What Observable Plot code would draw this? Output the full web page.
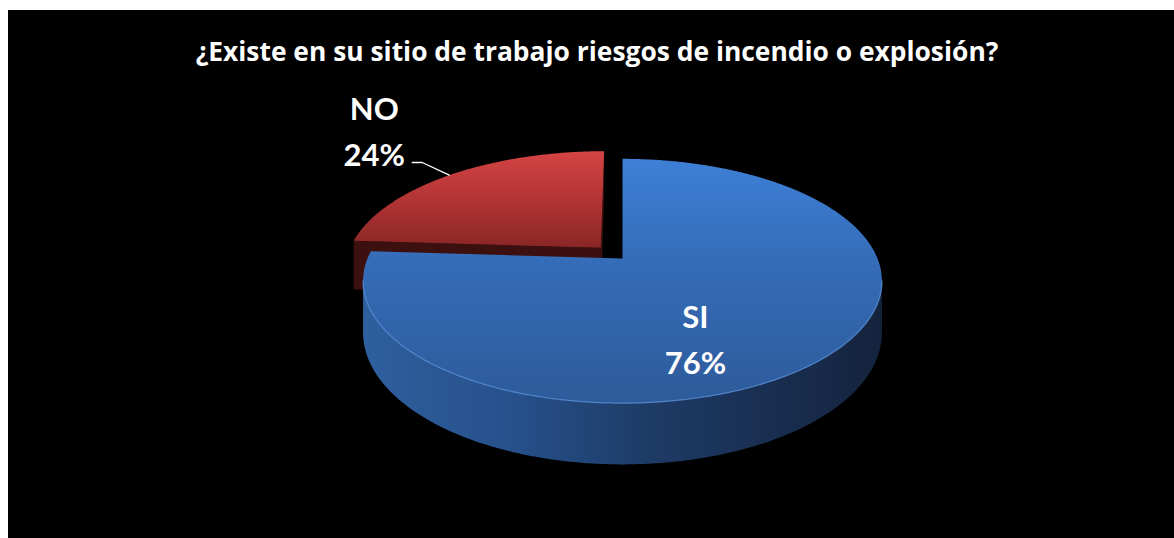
<!DOCTYPE html>
<html>
<head>
<meta charset="utf-8">
<script src="https://cdn.jsdelivr.net/npm/d3@7"></script>
<script src="https://cdn.jsdelivr.net/npm/@observablehq/plot@0.6"></script>
<style>
  html, body { margin: 0; padding: 0; background: #ffffff; }
  #frame { position: absolute; left: 8px; top: 10px; width: 1166px; height: 528px; background: #000; overflow: hidden; }
  #title { height: 70px; box-sizing: border-box; padding-top: 26px; padding-left: 12px; text-align: center;
           color: #fff; font: bold 26.4px "Open Sans", sans-serif; line-height: 30px; white-space: nowrap; }
  #chart svg { display: block; }
</style>
</head>
<body>
<div id="frame"><div id="title"></div><div id="chart"></div></div>
<script>
// ---- data ----
const chartTitle = "¿Existe en su sitio de trabajo riesgos de incendio o explosión?";
const categories = ["SI", "NO"];
const values = [76, 24];
const percentLabels = ["76%", "24%"];
const explodeAmount = [0, 0.126];

// ---- layout (3D perspective pie) ----
const C = {x: 622, y: 258};   // projected pie center (page px)
const A = 255, B = 118, K = -0.184, T = 50;
const deg = Math.PI / 180;
function proj(X, Z, h = 0) {
  const w = 1 + K * Z;
  return {x: C.x + A * X / w, y: C.y + (B * Z + h) / w};
}
const arcs = d3.pie().sort(null).value(d => d)(values);
const frontL = 100.6 * deg, frontR = 259.4 * deg;

function rim(a0, a1, off, h) {
  const n = Math.max(2, Math.ceil(Math.abs(a1 - a0) / (0.5 * deg)));
  const pts = [];
  for (let i = 0; i <= n; i++) {
    const a = a0 + (a1 - a0) * i / n;
    pts.push(proj(off.X + Math.sin(a), off.Z - Math.cos(a), h));
  }
  return pts;
}
function area2(p) {
  let s = 0;
  for (let i = 0; i < p.length; i++) { const q = p[(i + 1) % p.length]; s += p[i].x * q.y - q.x * p[i].y; }
  return s;
}

const fills = {
  SI: {top: "url(#siTop)", side: "url(#siSide)", cut: "#1c355c", hi: "#5d95de"},
  NO: {top: "url(#noTop)", side: "url(#noSide)", cut: "#3d1010", hi: "#d85555"}
};

const marks = [];
const order = [1, 0]; // back slice (NO) first
for (const i of order) {
  const a = arcs[i], cat = categories[i], f = fills[cat];
  const mid = (a.startAngle + a.endAngle) / 2;
  const off = {X: explodeAmount[i] * Math.sin(mid), Z: -explodeAmount[i] * Math.cos(mid)};
  // outer side (front visible part)
  const s0 = Math.max(a.startAngle, frontL), s1 = Math.min(a.endAngle, frontR);
  let hiArc = null;
  if (s1 > s0) {
    const topArc = rim(s0, s1, off, 0), botArc = rim(s0, s1, off, T).reverse();
    marks.push(Plot.line(topArc.concat(botArc), {x: "x", y: "y", fill: f.side, stroke: "none"}));
    hiArc = topArc;
  }
  // radial cut faces
  const apexT = proj(off.X, off.Z, 0), apexB = proj(off.X, off.Z, T);
  for (const [ang, sign] of [[a.startAngle, -1], [a.endAngle, 1]]) {
    const rT = proj(off.X + Math.sin(ang), off.Z - Math.cos(ang), 0);
    const rB = proj(off.X + Math.sin(ang), off.Z - Math.cos(ang), T);
    const quad = [apexT, rT, rB, apexB];
    if (Math.sign(area2(quad)) === sign) {
      marks.push(Plot.line(quad, {x: "x", y: "y", fill: f.cut, stroke: "none"}));
    }
  }
  // top face
  const topPoly = [apexT].concat(rim(a.startAngle, a.endAngle, off, 0));
  marks.push(Plot.line(topPoly, {x: "x", y: "y", fill: f.top, stroke: "none"}));
  if (hiArc) marks.push(Plot.line(hiArc, {x: "x", y: "y", stroke: f.hi, strokeWidth: 1.2, strokeOpacity: 0.8}));
}

// labels
const siDisc = {X: 0.255, Z: 0.586};
const siPos = proj(siDisc.X, siDisc.Z);
const noArc = arcs[1];
const noMid = (noArc.startAngle + noArc.endAngle) / 2;
const noOff = {X: explodeAmount[1] * Math.sin(noMid), Z: -explodeAmount[1] * Math.cos(noMid)};
const leadAng = 316 * deg;
const leadEnd = proj(noOff.X + Math.sin(leadAng), noOff.Z - Math.cos(leadAng));
const elbow = {x: leadEnd.x - 27, y: leadEnd.y - 12.7};
const leadStart = {x: elbow.x - 10, y: elbow.y};
const noPos = {x: leadStart.x - 38, y: leadStart.y - 34.5};
const labelRows = [
  {x: siPos.x, y: siPos.y, text: categories[0] + "\n" + percentLabels[0]},
  {x: noPos.x, y: noPos.y, text: categories[1] + "\n" + percentLabels[1]}
];
marks.push(Plot.line([leadStart, elbow, leadEnd], {x: "x", y: "y", stroke: "#ffffff", strokeWidth: 1.3}));
marks.push(Plot.text(labelRows, {x: "x", y: "y", text: "text", fill: "#ffffff", fontSize: 31, fontWeight: "bold",
  fontFamily: "Lato, sans-serif", lineHeight: 1.484, lineAnchor: "middle", textAnchor: "middle"}));

document.getElementById("title").textContent = chartTitle;

const plot = Plot.plot({
  width: 1166, height: 458,
  margin: 0,
  style: {background: "#000", overflow: "visible"},
  x: {domain: [8, 1174], range: [0, 1166], axis: null},
  y: {domain: [80, 538], range: [0, 458], axis: null},
  marks
});

const defs = d3.select(plot).insert("defs", ":first-child");
function grad(id, x2, y2, stops) {
  const g = defs.append("linearGradient").attr("id", id).attr("x1", 0).attr("y1", 0).attr("x2", x2).attr("y2", y2);
  for (const [o, c] of stops) g.append("stop").attr("offset", o).attr("stop-color", c);
}
grad("siTop", 0, 1, [[0, "#3d80d6"], [0.45, "#356bb6"], [1, "#2d5b9b"]]);
grad("siSide", 1, 0, [[0, "#2e5f9e"], [0.3, "#26508a"], [0.55, "#1e3b66"], [1, "#14233d"]]);
grad("noTop", 0, 1, [[0, "#d54444"], [0.5, "#b23434"], [1, "#8a2626"]]);
grad("noSide", 1, 0, [[0, "#4a1414"], [1, "#2e0b0b"]]);

document.getElementById("chart").appendChild(plot);
</script>
</body>
</html>
